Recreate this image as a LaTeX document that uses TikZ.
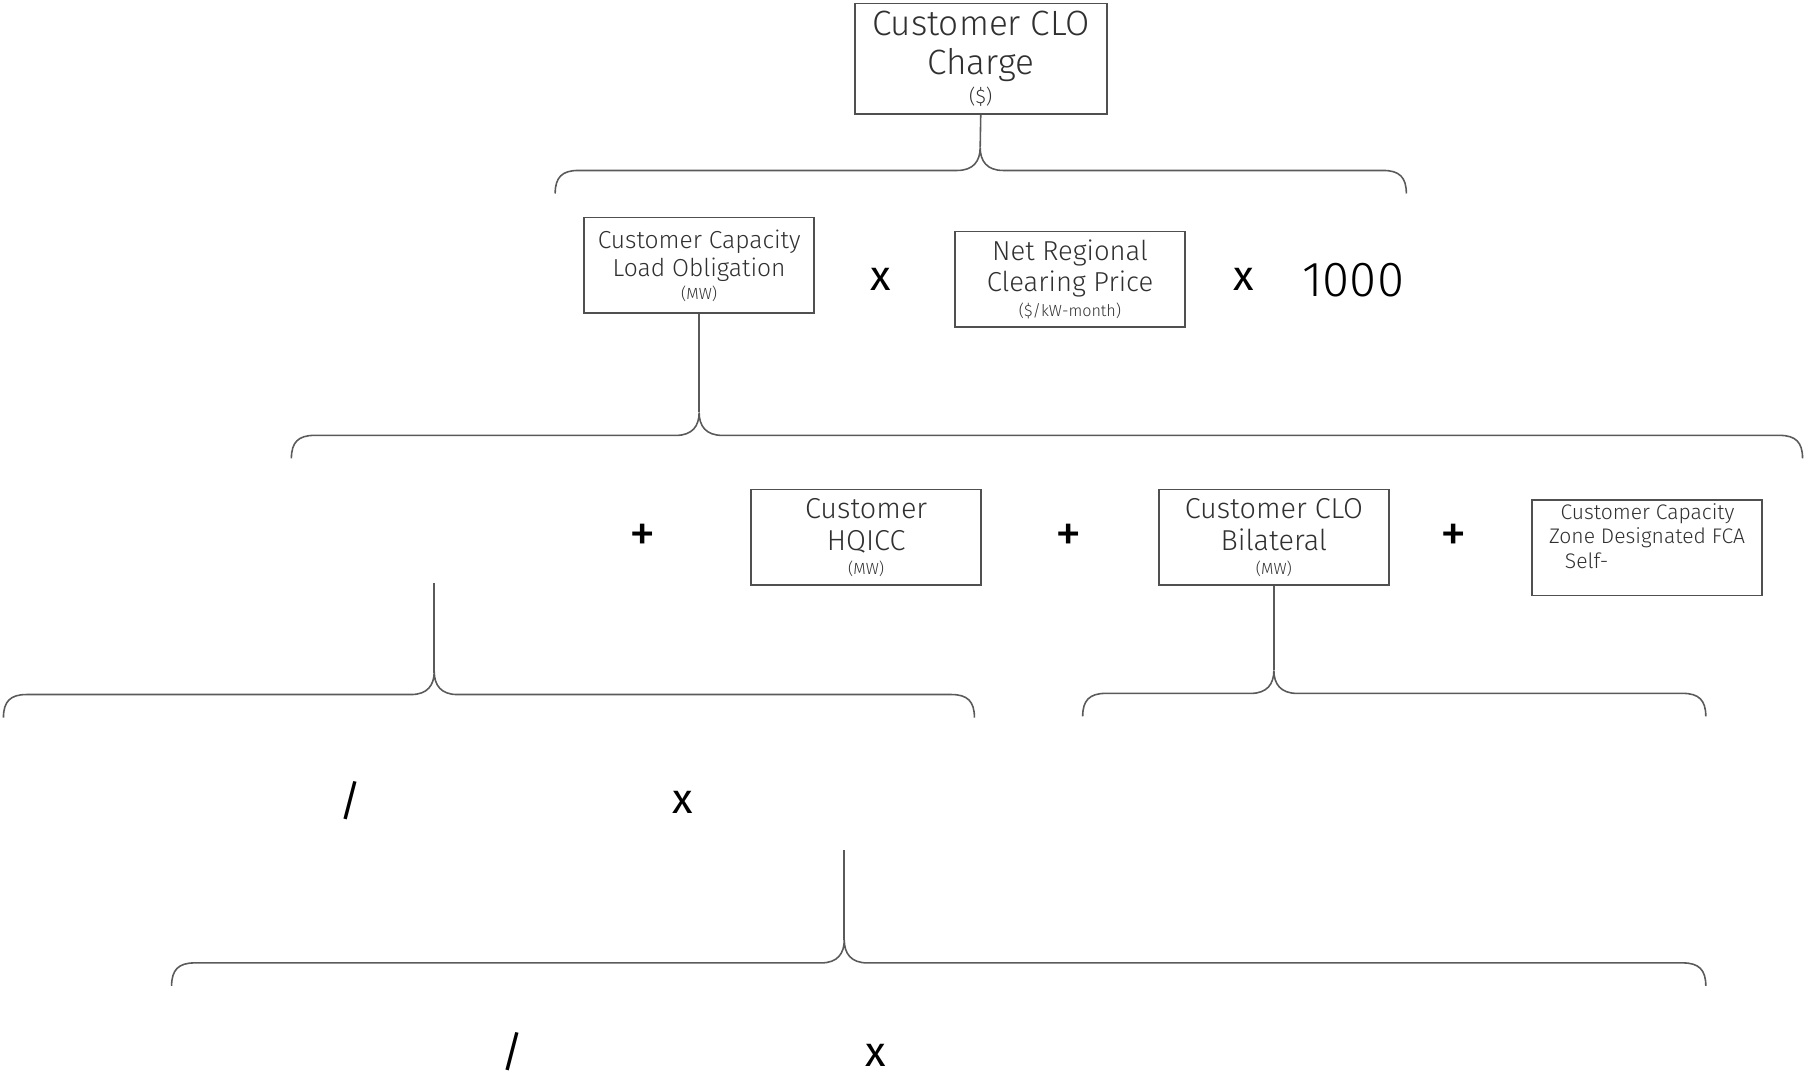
\documentclass[tikz,border=0pt]{standalone}
\usepackage{fontspec}
\setmainfont{Fira Sans Light}
\newfontfamily\opfont{Fira Sans}
\usepackage{xcolor}
\usetikzlibrary{positioning}

\definecolor{boxgray}{HTML}{505050}
\definecolor{linegray}{HTML}{5A5A5A}
\definecolor{textgray}{HTML}{303030}

% brace: left x, tip x, right x, y of the bar
\newcommand{\drawbrace}[4]{%
  \draw[conn] (#1,#4+20) .. controls (#1,#4+6) and (#1+6,#4) .. (#1+20,#4)
    -- (#2-20,#4) .. controls (#2-6,#4) and (#2,#4-8) .. (#2,#4-20)
    .. controls (#2,#4-8) and (#2+6,#4) .. (#2+20,#4)
    -- (#3-20,#4) .. controls (#3-6,#4) and (#3,#4+6) .. (#3,#4+20);}

\tikzset{
  termbox/.style={rectangle, draw=boxgray, line width=0.45pt, text=textgray, align=center,
    minimum width=2.30cm, minimum height=0.956cm, inner sep=1pt, font=\fontsize{7}{8}\selectfont},
  bigterm/.style={termbox, font=\fontsize{8.2}{9.2}\selectfont},
  conn/.style={draw=linegray, line width=0.45pt},
  oper/.style={font=\opfont\fontsize{12}{12}\selectfont, text=black},
  plus/.style={font=\opfont\fontsize{15}{15}\selectfont, text=black}
}

\begin{document}
\begin{tikzpicture}[x=0.011518cm, y=-0.011518cm]
    \useasboundingbox (0,0) rectangle (1568,936);

    % Top level charge
    \node[termbox, minimum width=2.52cm, minimum height=1.106cm, font=\fontsize{10}{11}\selectfont]
        (charge) at (851.5,51) {Customer CLO\\[0.2pt]Charge\\[-2.8pt]{\fontsize{5.6}{6.5}\selectfont(\$)}};
    \coordinate (tipA) at (851,128);
    \draw[conn] (charge.south) -- (tipA);
    \drawbrace{482}{851}{1221}{148}

    % Obligation x price x 1000
    \node[termbox] (cclo) at (607,230.5) {Customer Capacity\\Load Obligation\\[-1.5pt]{\fontsize{4.6}{5.5}\selectfont(MW)}};
    \node[oper] (xA) at (765,243) {x};
    \node[termbox, font=\fontsize{7.8}{8.9}\selectfont] (nrcp) at (929,242.5) {Net Regional\\Clearing Price\\[-2pt]{\fontsize{4.6}{5.5}\selectfont(\$/kW-month)}};
    \node[oper] (xB) at (1080,243) {x};
    \node[font=\fontsize{14}{14}\selectfont, text=black] (thousand) at (1175,243) {1000};

    % Obligation breakdown
    \coordinate (tipB) at (607,358);
    \draw[conn] (cclo.south) -- (tipB);
    \drawbrace{253}{607}{1565}{378}

    \node[plus] (plusA) at (558,467) {+};
    \node[bigterm] (hqicc) at (752,466.5) {Customer\\HQICC\\[-2.4pt]{\fontsize{4.6}{5.5}\selectfont(MW)}};
    \node[plus] (plusB) at (928,467) {+};
    \node[bigterm] (bilat) at (1106,466.5) {Customer CLO\\Bilateral\\[-2.4pt]{\fontsize{4.6}{5.5}\selectfont(MW)}};
    \node[plus] (plusC) at (1262,467) {+};
    \node[termbox] (selfbox) at (1430,475.5) {};
    \node[anchor=north, text=textgray, align=left, inner sep=0pt, font=\fontsize{6}{7}\selectfont]
        (selftext) at ([yshift=-1pt]selfbox.north) {\hspace*{3.3pt}Customer Capacity\\Zone Designated FCA\\\hspace*{4.5pt}Self-};

    % Left branch
    \coordinate (freeA) at (377,506);
    \coordinate (tipC) at (377,584);
    \draw[conn] (freeA) -- (tipC);
    \drawbrace{3}{377}{846}{603}

    % Bilateral branch
    \coordinate (tipD) at (1106,582);
    \draw[conn] (bilat.south) -- (tipD);
    \drawbrace{940}{1106}{1481}{602}

    \node[oper] (slashA) at (304,695) {/};
    \node[oper] (xC) at (593,697) {x};

    % Lowest level
    \coordinate (freeB) at (733,738);
    \coordinate (tipE) at (733,816);
    \draw[conn] (freeB) -- (tipE);
    \drawbrace{149}{733}{1481}{836}

    \node[oper] (slashB) at (445,913) {/};
    \node[oper] (xD) at (760,916) {x};
\end{tikzpicture}
\end{document}
